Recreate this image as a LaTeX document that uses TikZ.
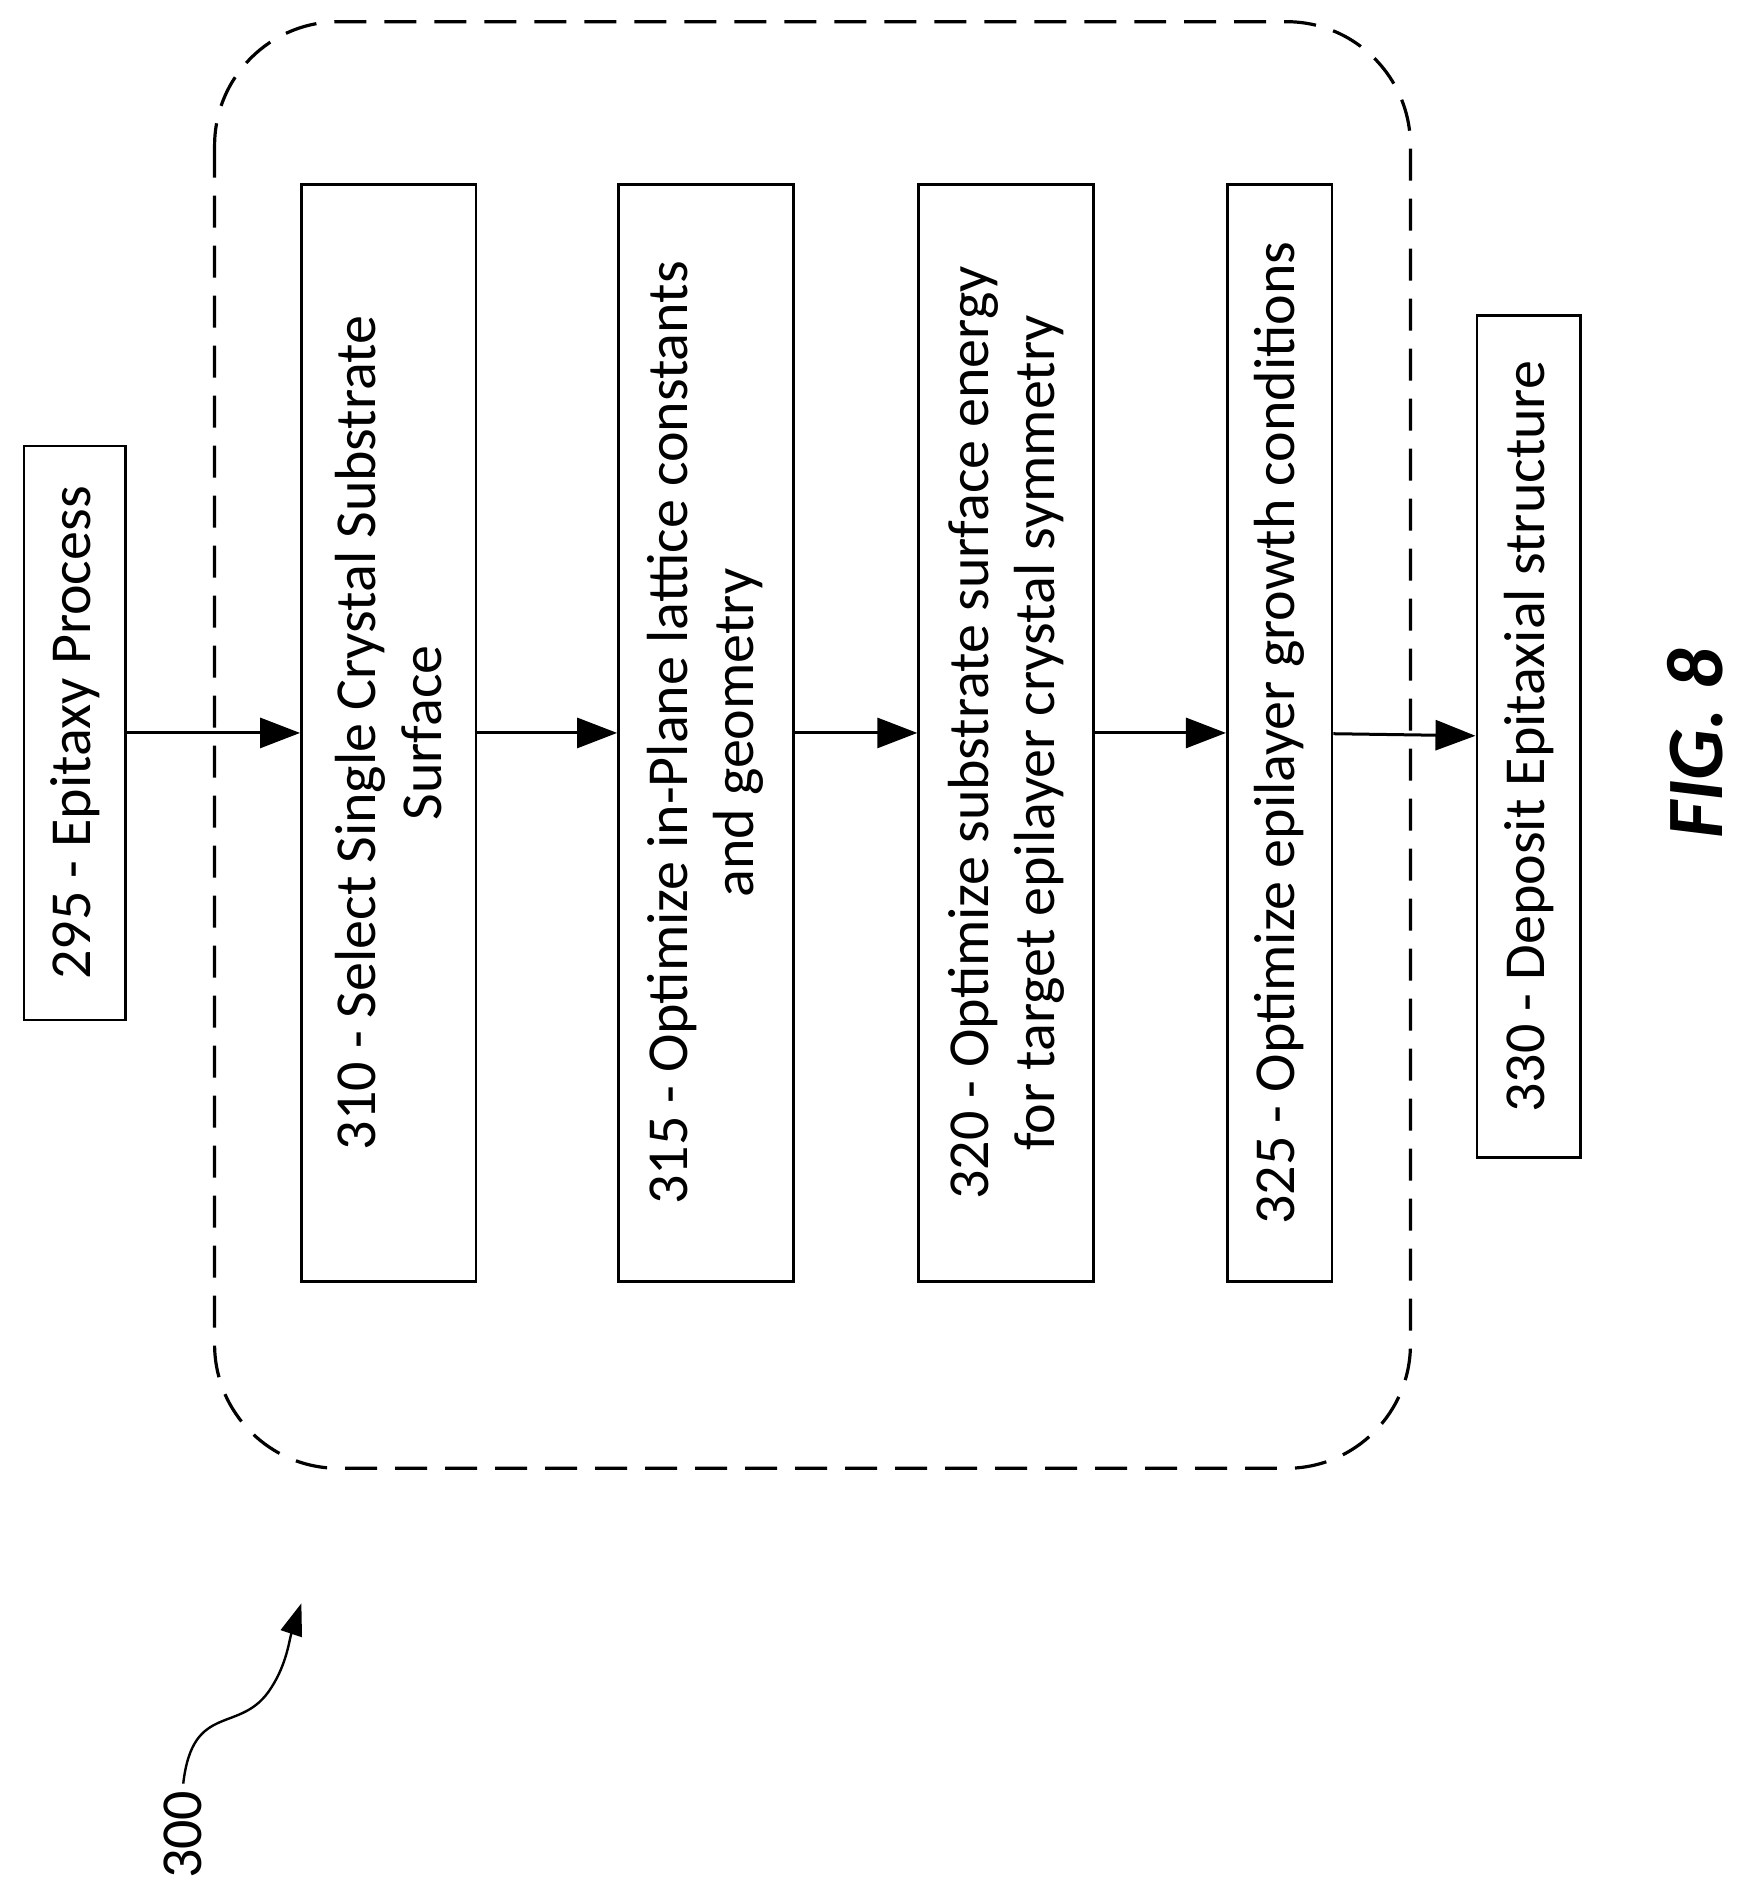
\documentclass[tikz,border=0pt]{standalone}
\usepackage{fontspec}
\setmainfont{Carlito}
\usetikzlibrary{arrows.meta}
\begin{document}
\begin{tikzpicture}[x=0.6028pt,y=-0.6028pt,
  box/.style={draw,line width=1.3pt,rotate=90,align=center,inner sep=0pt,
    font=\fontsize{29}{33}\selectfont},
  arr/.style={line width=1.5pt,-{Triangle[length=20pt,width=15pt]}}]
\useasboundingbox (0,0) rectangle (1450,1564.5);
\draw[line width=1.6pt,dash pattern=on 16pt off 9pt,rounded corners=62pt] (178,18) rectangle (1170,1218);
\node[box,minimum width=287pt,minimum height=50.6pt] (a) at (62,608) {295 - Epitaxy Process};
\node[box,minimum width=548.5pt,minimum height=87.4pt] (b) at (322.5,608) {310 - Select Single Crystal Substrate\\Surface};
\node[box,minimum width=548.5pt,minimum height=87.4pt] (c) at (585.5,608) {315 - Optimize in-Plane lattice constants\\and geometry};
\node[box,minimum width=548.5pt,minimum height=87.4pt] (d) at (834.5,608) {320 - Optimize substrate surface energy\\for target epilayer crystal symmetry};
\node[box,minimum width=548.5pt,minimum height=52.4pt] (e) at (1061.5,608) {325 - Optimize epilayer growth conditions};
\node[box,minimum width=420.8pt,minimum height=51.8pt] (f) at (1268,611) {330 - Deposit Epitaxial structure};
\draw[arr] (a) -- (b);
\draw[arr] (b) -- (c);
\draw[arr] (c) -- (d);
\draw[arr] (d) -- (e);
\draw[arr] (e) -- (f);
\node[rotate=90,font=\fontsize{40}{48}\bfseries\itshape\selectfont] (fig) at (1406,617) {FIG. 8};
\node[rotate=90,font=\fontsize{29}{33}\selectfont,anchor=center] (lbl) at (152,1522) {300};
\coordinate (tip) at (250,1330);
\draw[line width=1.2pt,-{Triangle[length=16pt,width=11pt]}] (lbl.east) .. controls (160,1410) and (200,1440) .. (225,1400) .. controls (238,1380) and (240,1360) .. (tip);
\end{tikzpicture}
\end{document}
